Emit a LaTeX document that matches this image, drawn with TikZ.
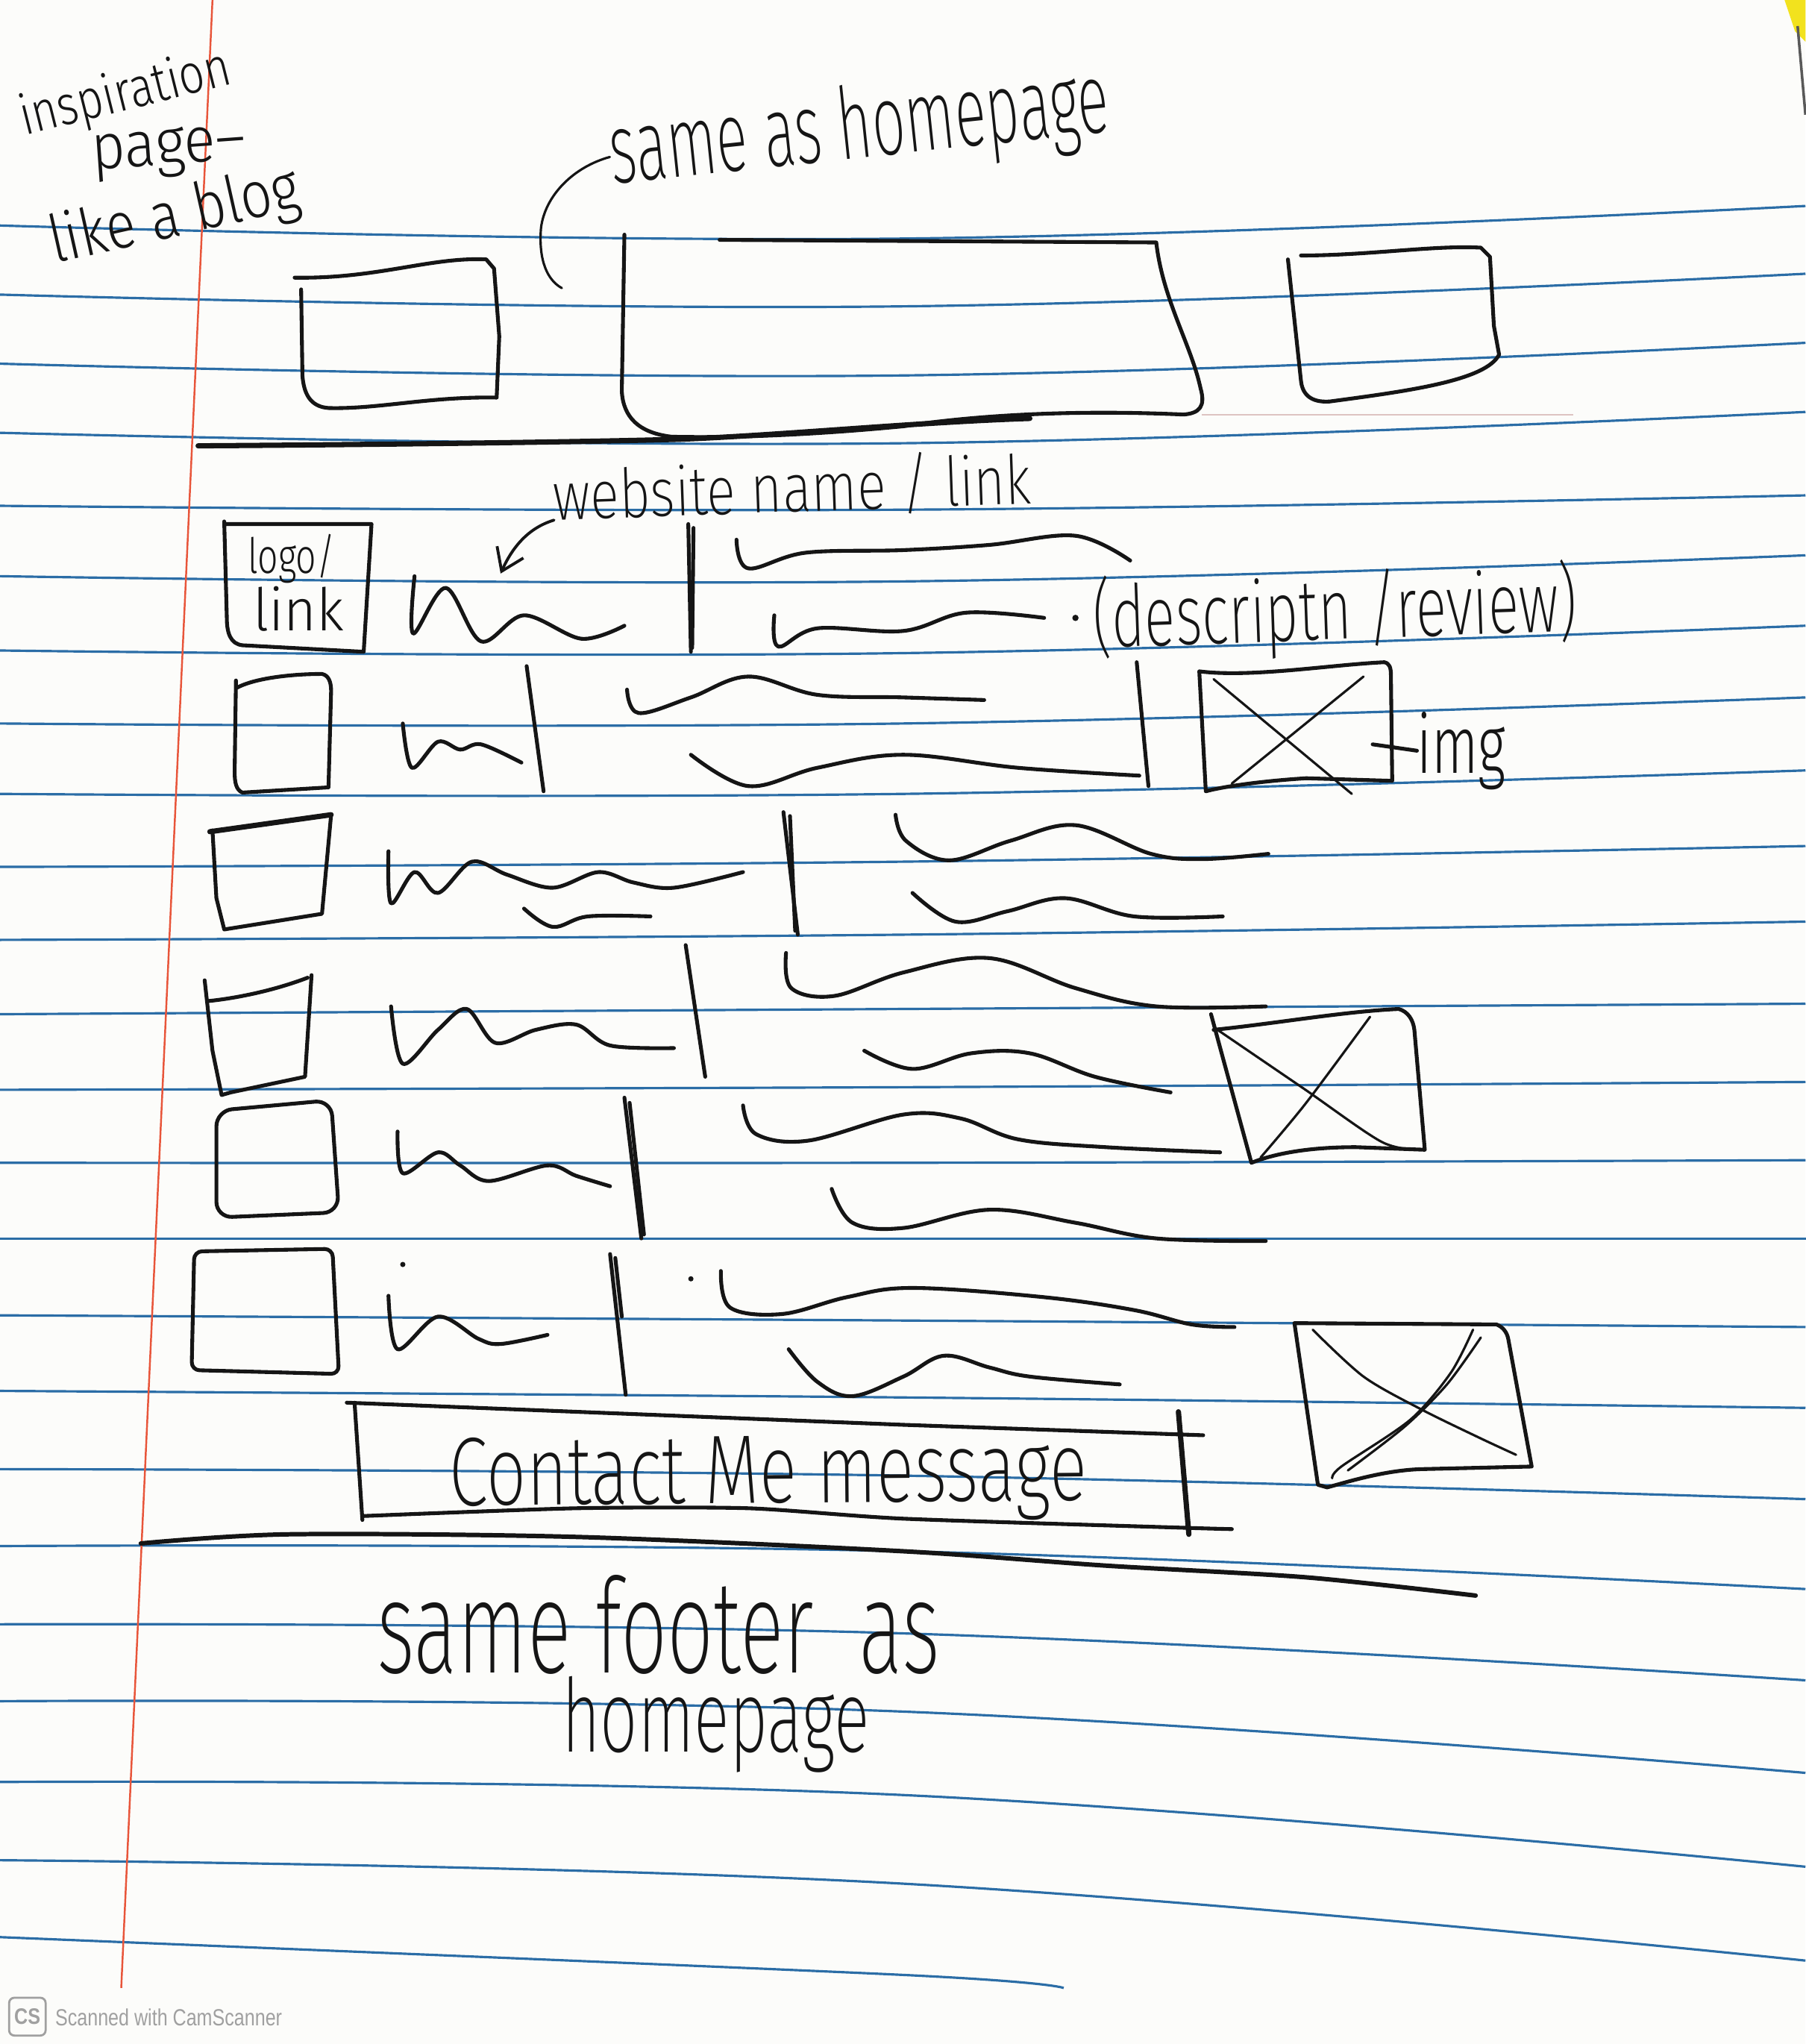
\documentclass[tikz,border=0pt]{standalone}
\usepackage{graphicx}
\usepackage{fontspec}
\setmainfont{Fira Sans}[UprightFont={* Light}]
\newfontfamily\thinhand{Fira Sans}[UprightFont={* ExtraLight}]
\newfontfamily\scanfont{Liberation Sans}
\usetikzlibrary{arrows.meta}
\newdimen\pxu
\pxu=0.01747cm
% handwritten label squeezed into a given width and height (sheet pixels)
\newcommand\hand[3]{\resizebox{#1\pxu}{#2\pxu}{\fontsize{28}{32}\selectfont #3}}
\newcommand\handthin[3]{\resizebox{#1\pxu}{#2\pxu}{\thinhand\fontsize{28}{32}\selectfont #3}}
\definecolor{paper}{HTML}{FCFCFA}
\definecolor{rulecol}{HTML}{2B6DA6}
\definecolor{margincol}{HTML}{E8553A}
\definecolor{ink}{HTML}{151515}
\definecolor{scangray}{HTML}{A0A0A0}
\definecolor{sticky}{HTML}{F2E21E}
\begin{document}
\begin{tikzpicture}[x=0.01747cm, y=-0.01747cm,
  pen/.style={draw=ink, line width=1.45pt, line cap=round, line join=round},
  heavypen/.style={pen, line width=2pt},
  finepen/.style={pen, line width=0.9pt},
  ruleline/.style={draw=rulecol, line width=0.9pt},
  txt/.style={inner sep=0pt, outer sep=0pt, anchor=base west, text=ink}]
\fill[paper] (0,0) rectangle (1385,1568);
\useasboundingbox (0,0) rectangle (1385,1568);

% ---- ruled notebook paper ----
\foreach \ya/\yb/\yc in {173/183/158, 226/235/210, 279/288/263, 332/340/316,
  388/391/380, 442/446/426, 499/501/480, 555/555/535, 609/609/591, 665/661/649,
  721/717/707, 778/774/770, 836/834/830, 892/892/890, 950/950/950,
  1009/1013/1018, 1067/1072/1080, 1127/1132/1150, 1186/1190/1219,
  1246/1253/1289, 1305/1313/1360, 1367/1377/1432, 1427/1445/1504}
  \draw[ruleline] plot[smooth, tension=0.7] coordinates {(0,\ya) (693,\yb) (1385,\yc)};
\draw[ruleline] plot[smooth] coordinates {(0,1486) (693,1515) (816,1525)};
\draw[draw=margincol, line width=0.7pt] (163,0) -- (93,1525);
% sticky tab peeking in at the corner
\fill[sticky] (1369,0) -- (1385,0) -- (1385,32) -- (1377,24) -- cycle;
\draw[draw=black!65, line width=1pt] (1379,20) -- (1385,88);

% ---- page title note ----
\node[txt, rotate=14] (insp1) at (19,104) {\hand{165}{32}{inspiration}};
\node[txt, rotate=4] (insp2) at (71,130) {\hand{119}{28}{page–}};
\node[txt, rotate=12.6] (insp3) at (42,202) {\hand{195}{38}{like a blog}};

% ---- header ----
\draw[pen] (226,213) .. controls (290,214) and (330,197) .. (373,199) -- (379,206) -- (383,258) -- (381,305)
  .. controls (330,304) and (290,314) .. (252,313) .. controls (238,312) and (233,302) .. (232,288) -- (231,222);
\draw[pen] (552,184) -- (887,186) .. controls (892,230) and (914,265) .. (921,298)
  .. controls (925,312) and (920,317) .. (908,318) .. controls (820,314) and (745,319) .. (693,327)
  .. controls (620,334) and (560,336) .. (515,335) .. controls (490,332) and (478,320) .. (477,300) -- (479,180);
\draw[pen] (998,196) .. controls (1050,196) and (1100,188) .. (1136,190) -- (1143,197) -- (1146,250) -- (1150,272)
  .. controls (1140,292) and (1080,300) .. (1020,308) .. controls (1005,309) and (999,302) .. (998,292) -- (988,199);
\draw[heavypen] (152,342) .. controls (300,341) and (450,339) .. (520,337) .. controls (600,334) and (700,324) .. (790,321);
\draw[draw=red!30!gray, line width=0.5pt, opacity=0.35] (922,318) -- (1207,318);
\node[txt, rotate=6] (samehdr) at (470,141) {\handthin{385}{57}{same as homepage}};
\coordinate (hdrhook) at (431,221);
\draw[finepen] (samehdr.west) .. controls (440,128) and (418,150) .. (415,175) .. controls (413,200) and (420,215) .. (hdrhook);

% ---- row 1 ----
\draw[pen] (173,402) -- (285,402) -- (279,500) -- (186,495) .. controls (177,494) and (174,486) .. (174,474) -- (172,400);
\node[txt] (logotxt) at (190,440) {%
  \rlap{\hand{67}{30}{logo/}}%
  \hspace{4\pxu}\raisebox{-44\pxu}{\hand{70}{34}{link}}};
\draw[pen] plot[smooth, tension=0.55] coordinates {(318,442) (317,486) (342,451) (369,492) (402,472) (446,490) (479,480)};
\draw[pen] (528,402) -- (530,500);
\draw[pen] (532,405) -- (531,497);
\draw[pen] plot[smooth, tension=0.6] coordinates {(565,414) (574,436) (618,424) (693,422) (759,418) (825,411) (867,430)};
\draw[pen] plot[smooth, tension=0.6] coordinates {(594,472) (597,496) (627,482) (693,484) (741,470) (801,474)};
\fill[ink] (825,474) circle (1.2pt);
\node[txt, rotate=2] (desc) at (839,497) {\handthin{372}{55}{(descriptn /review)}};
\node[txt, rotate=2] (wname) at (425,399) {\handthin{367}{42}{website name / link}};
\coordinate (wtip) at (384,440);
\draw[pen, line width=1.1pt, -{Straight Barb[length=8pt, width=11pt]}] (wname.base west) .. controls (405,405) and (393,420) .. (wtip);

% ---- row 2 ----
\draw[pen] (181,528) .. controls (195,520) and (225,517) .. (247,517) .. controls (252,518) and (254,523) .. (254,530)
  -- (252,604) -- (186,608) .. controls (181,606) and (180,600) .. (180,592) -- (181,522);
\draw[pen] plot[smooth, tension=0.55] coordinates {(309,555) (316,589) (336,569) (353,575) (369,571) (400,585)};
\draw[pen] (404,511) -- (417,607);
\draw[pen] plot[smooth, tension=0.6] coordinates {(481,529) (490,547) (530,535) (574,519) (627,533) (693,535) (755,537)};
\draw[pen] plot[smooth, tension=0.6] coordinates {(530,579) (574,603) (627,589) (693,579) (781,589) (874,595)};
\draw[pen] (872,508) -- (881,603);
\draw[pen] (920,515) .. controls (960,520) and (1020,510) .. (1062,508) .. controls (1066,509) and (1067,512) .. (1067,518)
  -- (1068,599) -- (1002,597) .. controls (970,599) and (940,603) .. (925,607) -- (920,515);
\draw[finepen] (931,521) -- (1037,609);
\draw[finepen] (1046,519) -- (945,601);
\node[txt] (imgA) at (1087,593) {\hand{68}{47}{img}};
\coordinate (imgedge) at (1053,571);
\draw[pen] (imgedge) -- (imgA.west);

% ---- row 3 ----
\draw[pen] (163,637) -- (166,689) -- (172,713) -- (247,701) -- (254,625);
\draw[heavypen] (161,638) -- (254,625);
\draw[pen] plot[smooth, tension=0.55] coordinates {(298,653) (300,693) (318,669) (336,685) (362,661) (389,671) (424,681) (459,669) (486,677) (517,681) (570,669)};
\draw[pen] plot[smooth, tension=0.6] coordinates {(402,697) (424,711) (451,703) (499,703)};
\draw[pen] (601,623) -- (612,717);
\draw[pen] (606,626) -- (610,714);
\draw[pen] plot[smooth, tension=0.6] coordinates {(687,625) (695,645) (728,660) (775,645) (825,633) (883,655) (923,659) (973,655)};
\draw[pen] plot[smooth, tension=0.6] coordinates {(700,685) (733,707) (773,699) (817,689) (870,703) (938,703)};

% ---- row 4 ----
\draw[pen] (157,752) -- (163,806) -- (170,840) -- (177,838) -- (234,826) -- (239,748);
\draw[pen] (159,768) .. controls (180,766) and (210,760) .. (236,750);
\draw[pen] plot[smooth, tension=0.55] coordinates {(300,772) (309,816) (336,790) (358,774) (380,800) (411,790) (442,786) (468,802) (517,804)};
\draw[pen] (526,725) -- (541,826);
\draw[pen] plot[smooth, tension=0.6] coordinates {(603,731) (607,758) (640,764) (693,746) (759,735) (825,758) (887,772) (971,772)};
\draw[pen] plot[smooth, tension=0.6] coordinates {(663,806) (700,820) (745,808) (790,808) (840,826) (898,838)};
\draw[pen] (931,790) .. controls (980,785) and (1030,776) .. (1073,774) .. controls (1080,776) and (1084,782) .. (1085,790)
  -- (1093,882) -- (1040,880) .. controls (1000,880) and (975,886) .. (960,892) -- (929,778);
\draw[finepen] plot[smooth] coordinates {(934,790) (1000,835) (1060,876) (1090,882)};
\draw[finepen] plot[smooth] coordinates {(1051,780) (1002,846) (967,888)};

% ---- row 5 ----
\draw[pen, rounded corners=6pt] (166,852) -- (254,844) -- (260,930) -- (166,934) -- cycle;
\draw[pen] plot[smooth, tension=0.55] coordinates {(305,868) (309,900) (336,884) (353,894) (375,906) (420,894) (442,902) (468,910)};
\draw[pen] (479,842) -- (492,950);
\draw[pen] (483,846) -- (494,947);
\draw[pen] plot[smooth, tension=0.6] coordinates {(570,848) (580,870) (620,875) (693,855) (737,858) (781,874) (848,880) (936,884)};
\draw[pen] plot[smooth, tension=0.6] coordinates {(638,912) (654,938) (693,942) (759,928) (825,938) (887,950) (971,952)};

% ---- row 6 ----
\draw[pen, rounded corners=3pt] (149,960) -- (255,958) -- (260,1054) -- (147,1051) -- cycle;
\draw[pen] plot[smooth, tension=0.55] coordinates {(298,994) (305,1035) (336,1010) (367,1027) (384,1031) (420,1024)};
\draw[pen] (468,962) -- (480,1070);
\draw[pen] (472,965) -- (477,1010);
\fill[ink] (309,970) circle (1pt);
\fill[ink] (530,981) circle (1pt);
\draw[pen] plot[smooth, tension=0.6] coordinates {(553,975) (560,1003) (600,1008) (650,995) (700,988) (800,995) (870,1005) (914,1016) (947,1018)};
\draw[pen] plot[smooth, tension=0.6] coordinates {(605,1035) (627,1060) (654,1071) (693,1056) (724,1040) (759,1049) (790,1056) (859,1062)};
\draw[pen] (993,1015) -- (1148,1016) .. controls (1153,1018) and (1156,1022) .. (1157,1027) -- (1175,1125)
  -- (1090,1127) .. controls (1060,1128) and (1030,1138) .. (1018,1141) -- (1011,1139) -- (993,1015);
\draw[finepen] plot[smooth] coordinates {(1007,1020) (1046,1056) (1090,1081) (1135,1103) (1163,1116)};
\draw[finepen] plot[smooth] coordinates {(1130,1020) (1113,1053) (1082,1089) (1029,1125) (1022,1134)};
\draw[finepen] plot[smooth] coordinates {(1136,1026) (1110,1062) (1078,1094) (1034,1128)};

% ---- contact bar ----
\draw[pen] (266,1076) -- (693,1093) -- (923,1101);
\draw[pen] (272,1076) -- (278,1166);
\draw[pen] plot[smooth, tension=0.4] coordinates {(278,1163) (442,1157) (574,1157) (693,1165) (909,1172) (945,1173)};
\draw[heavypen] (904,1083) -- (912,1177);
\node[txt, rotate=0.5] (contact) at (345,1155) {\handthin{489}{52}{Contact Me message}};

% ---- footer ----
\draw[pen, line width=1.7pt] plot[smooth, tension=0.5] coordinates {(108,1184) (221,1177) (442,1179) (693,1190) (848,1201) (1002,1210) (1132,1224)};
\node[txt] (footnote) at (289,1283) {%
  \rlap{\handthin{432}{75}{same\hspace{0.3em}footer\hspace{0.55em}as}}%
  \hspace{142\pxu}\raisebox{-61\pxu}{\handthin{236}{58}{homepage}}};

% ---- scanner stamp ----
\node[draw=scangray, rounded corners=2pt, line width=0.8pt, minimum width=28\pxu, minimum height=29\pxu,
  inner sep=0pt, text=scangray] (cslogo) at (21,1547) {\hand{20}{12}{\scanfont\bfseries CS}};
\node[inner sep=0pt, anchor=base west, text=scangray] (scantxt) at (42,1554) {\hand{174}{13}{\scanfont Scanned with CamScanner}};
\end{tikzpicture}
\end{document}
